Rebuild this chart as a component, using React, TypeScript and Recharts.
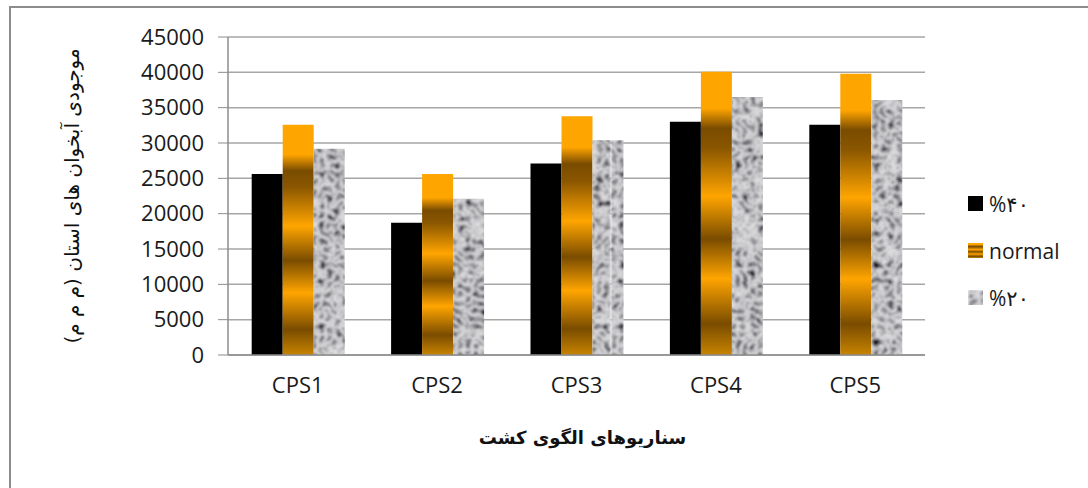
import React from 'react';
import { BarChart, Bar, XAxis, YAxis, CartesianGrid, Legend, Label } from 'recharts';

const categories = ['CPS1', 'CPS2', 'CPS3', 'CPS4', 'CPS5'];
const pct40 = [25600, 18700, 27100, 33000, 32600];
const normal = [32600, 25600, 33800, 40100, 39800];
const pct20 = [29200, 22100, 30400, 36500, 36100];
const yTicks = [0, 5000, 10000, 15000, 20000, 25000, 30000, 35000, 40000, 45000];

const seriesNames = ['%۴۰', 'normal', '%۲۰'];
const yTitle = 'موجودی آبخوان های استان (م م م)';
const xTitle = 'سناریوهای الگوی کشت';

const data = categories.map((name, i) => ({
  name,
  p40: pct40[i],
  normal: normal[i],
  p20: pct20[i],
}));

const series = [
  { key: 'p40', name: seriesNames[0], fill: '#000000' },
  { key: 'normal', name: seriesNames[1], fill: 'url(#goldStripes)' },
  { key: 'p20', name: seriesNames[2], fill: 'url(#granite)' },
];

const tickFont = { fontFamily: '"Open Sans", sans-serif', fontSize: 22, fill: '#1a1a1a' };

// gradient + stone texture shared by bars and legend swatches
function Fills() {
  return (
    <svg width={0} height={0} style={{ position: 'absolute' }}>
      <defs>
        <linearGradient id="goldStripes" x1="0" y1="0" x2="0" y2="1">
          <stop offset="0" stopColor="#ffa500" />
          <stop offset="0.13" stopColor="#ffa500" />
          <stop offset="0.2" stopColor="#7a4c00" />
          <stop offset="0.27" stopColor="#8a5600" />
          <stop offset="0.44" stopColor="#ffa500" />
          <stop offset="0.59" stopColor="#7a4c00" />
          <stop offset="0.73" stopColor="#ffa500" />
          <stop offset="0.89" stopColor="#7a4c00" />
          <stop offset="1" stopColor="#c88400" />
        </linearGradient>
        <filter id="graniteNoise" x="0" y="0" width="100%" height="100%">
          <feTurbulence type="turbulence" baseFrequency="0.13" numOctaves="2" seed="7" stitchTiles="stitch" />
          <feColorMatrix
            type="matrix"
            values="-1.3 0 0 0 0.8  -1.3 0 0 0 0.8  -1.3 0 0 0 0.82  0 0 0 0 1"
          />
          <feGaussianBlur stdDeviation="0.8" />
        </filter>
        <pattern id="granite" patternUnits="userSpaceOnUse" width="300" height="400">
          <rect width="300" height="400" fill="#bdbdbd" filter="url(#graniteNoise)" />
        </pattern>
      </defs>
    </svg>
  );
}

function renderLegend() {
  return (
    <ul style={{ listStyle: 'none', margin: 0, padding: 0 }}>
      {series.map((s) => (
        <li key={s.key} style={{ display: 'flex', alignItems: 'center', height: 47 }}>
          <svg width={15} height={15} style={{ marginRight: 6 }}>
            <rect width={15} height={15} fill={s.fill} />
          </svg>
          <span style={{ fontFamily: '"Open Sans", "DejaVu Sans", sans-serif', fontSize: 21, color: '#1a1a1a' }}>
            {s.name}
          </span>
        </li>
      ))}
    </ul>
  );
}

function YTitle(props: any) {
  const vb = props.viewBox;
  const x = vb.x + 61;
  const y = vb.y + vb.height / 2;
  return (
    <text
      x={x}
      y={y}
      transform={`rotate(-90, ${x}, ${y})`}
      textAnchor="middle"
      dominantBaseline="central"
      direction="rtl"
      fontFamily='"DejaVu Sans", sans-serif'
      fontSize={20}
      fill="#111"
    >
      {yTitle}
    </text>
  );
}

function XTitle(props: any) {
  const vb = props.viewBox;
  const x = vb.x + vb.width / 2 + 6;
  const y = vb.y + 82;
  return (
    <text
      x={x}
      y={y}
      textAnchor="middle"
      dominantBaseline="central"
      direction="rtl"
      fontFamily='"DejaVu Sans", sans-serif'
      fontSize={18}
      fontWeight="bold"
      fill="#111"
    >
      {xTitle}
    </text>
  );
}

export default function App() {
  return (
    <div
      style={{
        position: 'absolute',
        left: 9,
        top: 6,
        width: 1100,
        height: 500,
        border: '2px solid #8c8c8c',
        background: '#fff',
      }}
    >
      <Fills />
      <BarChart
        width={1090}
        height={490}
        data={data}
        margin={{ top: 29, right: 176, left: 0, bottom: 63 }}
        barCategoryGap="17%"
        barGap={0}
      >
        <CartesianGrid vertical={false} stroke="#a6a6a6" strokeWidth={1.5} />
        <XAxis
          dataKey="name"
          height={80}
          tickLine={false}
          tickSize={0}
          tickMargin={22}
          tick={tickFont}
          axisLine={{ stroke: '#8c8c8c', strokeWidth: 1.5 }}
        >
          <Label content={<XTitle />} />
        </XAxis>
        <YAxis
          width={217}
          domain={[0, 45000]}
          ticks={yTicks}
          interval={0}
          tickSize={10}
          tickMargin={14}
          tick={tickFont}
          tickLine={{ stroke: '#8c8c8c' }}
          axisLine={{ stroke: '#8c8c8c', strokeWidth: 1.5 }}
        >
          <Label content={<YTitle />} />
        </YAxis>
        <Legend
          layout="vertical"
          align="center"
          verticalAlign="middle"
          content={renderLegend}
          wrapperStyle={{ left: 957, top: 172, width: 130 }}
        />
        {series.map((s) => (
          <Bar key={s.key} dataKey={s.key} name={s.name} fill={s.fill} isAnimationActive={false} />
        ))}
      </BarChart>
    </div>
  );
}
